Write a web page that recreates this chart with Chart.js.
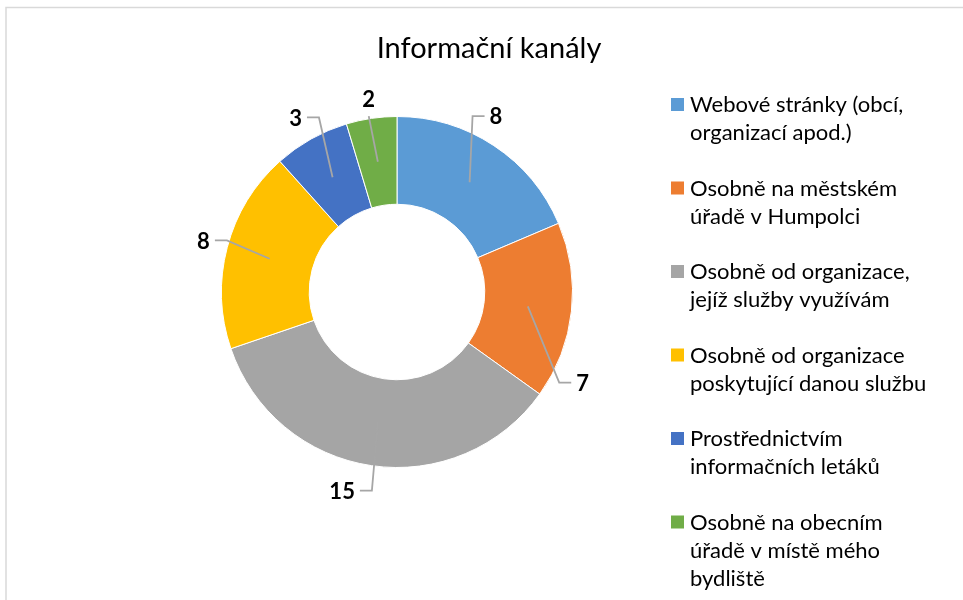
<!DOCTYPE html>
<html>
<head>
<meta charset="utf-8">
<script src="https://cdn.jsdelivr.net/npm/chart.js@4.4.1/dist/chart.umd.min.js"></script>
<style>
  html, body { margin: 0; padding: 0; background: #fff; }
  #wrap { width: 963px; height: 600px; }
</style>
</head>
<body>
<div id="wrap"><canvas id="myChart" width="963" height="600"></canvas></div>
<script>
"use strict";

// data
const chartTitle = "Informační kanály";
const categories = [
  ["Webové stránky (obcí,", "organizací apod.)"],
  ["Osobně na městském", "úřadě v Humpolci"],
  ["Osobně od organizace,", "jejíž služby využívám"],
  ["Osobně od organizace", "poskytující danou službu"],
  ["Prostřednictvím", "informačních letáků"],
  ["Osobně na obecním", "úřadě v místě mého", "bydliště"]
];
const values = [8, 7, 15, 8, 3, 2];
const colors = ["#5B9BD5", "#ED7D31", "#A5A5A5", "#FFC000", "#4472C4", "#70AD47"];

// label placement tweaks (deg shift from slice middle, distance from centre)
const labelShift = [-4, 20, 7, 0, -1, 0];
const labelDist = [201, 207, 207, 200, 201, 194];

const FONT = "Lato, 'Noto Sans', sans-serif";

// draws frame, title, legend and data labels
const extrasPlugin = {
  id: "extras",
  afterDraw(chart) {
    const ctx = chart.ctx;
    ctx.save();

    // frame
    ctx.strokeStyle = "#d9d9d9";
    ctx.lineWidth = 1.5;
    ctx.beginPath();
    ctx.moveTo(6, 600);
    ctx.lineTo(6, 7.5);
    ctx.lineTo(963, 7.5);
    ctx.stroke();

    // title
    ctx.fillStyle = "#000";
    ctx.font = "29px " + FONT;
    ctx.textAlign = "center";
    ctx.textBaseline = "alphabetic";
    ctx.fillText(chartTitle, 489, 58);

    // legend
    let y = 105;
    ctx.font = "22px " + FONT;
    ctx.textAlign = "left";
    ctx.textBaseline = "middle";
    categories.forEach((lines, i) => {
      ctx.fillStyle = colors[i];
      ctx.fillRect(671, y - 7, 13, 13);
      ctx.fillStyle = "#000";
      lines.forEach((t, j) => {
        ctx.fillText(t, 690, y + j * 28);
      });
      y += lines.length * 28 + 27.5;
    });

    // data labels with leader lines
    const arcs = chart.getDatasetMeta(0).data;
    ctx.font = "bold 22px " + FONT;
    ctx.textAlign = "center";
    arcs.forEach((arc, i) => {
      const mid = (arc.startAngle + arc.endAngle) / 2;
      const ringR = (arc.innerRadius + arc.outerRadius) / 2;
      const ax = arc.x + ringR * Math.cos(mid);
      const ay = arc.y + ringR * Math.sin(mid);
      const la = mid + labelShift[i] * Math.PI / 180;
      const lx = arc.x + labelDist[i] * Math.cos(la);
      const ly = arc.y + labelDist[i] * Math.sin(la);
      const txt = String(values[i]);
      const w = ctx.measureText(txt).width;

      ctx.strokeStyle = "#a6a6a6";
      ctx.lineWidth = 1.8;
      ctx.beginPath();
      if (Math.abs(Math.cos(la)) < 0.2) {
        ctx.moveTo(lx, ly + 16);
        ctx.lineTo(ax, ay);
      } else {
        const dir = Math.cos(la) > 0 ? -1 : 1;
        const sx = lx + dir * (w / 2 + 5);
        ctx.moveTo(sx, ly - 1);
        ctx.lineTo(sx + dir * 12, ly - 1);
        ctx.lineTo(ax, ay);
      }
      ctx.stroke();

      ctx.fillStyle = "#000";
      ctx.fillText(txt, lx, ly);
    });

    ctx.restore();
  }
};

const ctx = document.getElementById("myChart").getContext("2d");

new Chart(ctx, {
  type: "doughnut",
  data: {
    labels: categories,
    datasets: [{
      data: values,
      backgroundColor: colors,
      borderColor: "#ffffff",
      borderWidth: 1
    }]
  },
  options: {
    responsive: false,
    animation: false,
    cutout: "50%",
    layout: {
      padding: { left: 221, top: 116, right: 390, bottom: 132 }
    },
    plugins: {
      legend: { display: false },
      title: { display: false },
      tooltip: { enabled: false }
    },
    events: []
  },
  plugins: [extrasPlugin]
});
</script>
</body>
</html>
